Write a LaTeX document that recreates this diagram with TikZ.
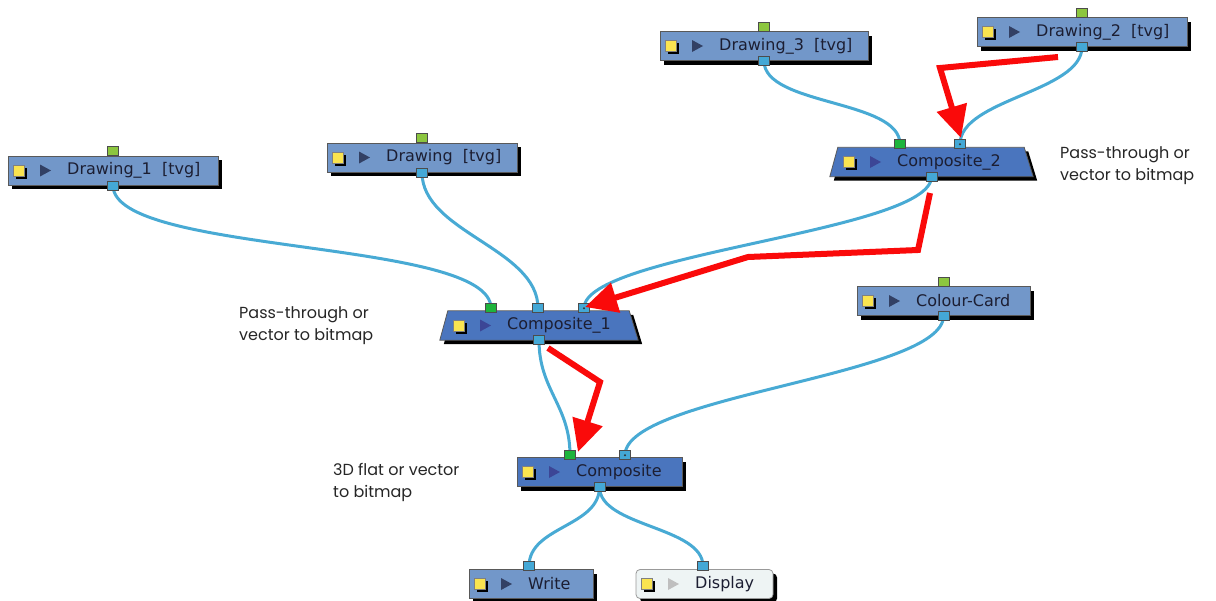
\documentclass[tikz,border=0pt]{standalone}
\usepackage{fontspec}
\setmainfont{DejaVu Sans}
\newfontfamily\notefont{Poppins}
\usetikzlibrary{shadows,arrows.meta}
\pgfdeclarelayer{bg}
\pgfdeclarelayer{wires}
\pgfsetlayers{bg,wires,main}
\definecolor{dfill}{RGB}{114,151,201}
\definecolor{cfill}{RGB}{74,117,190}
\definecolor{wfill}{RGB}{238,244,244}
\definecolor{pblue}{RGB}{68,168,214}
\definecolor{plime}{RGB}{140,198,63}
\definecolor{pgreen}{RGB}{30,180,60}
\definecolor{wirec}{RGB}{72,170,212}
\definecolor{arrowred}{RGB}{250,10,10}
\definecolor{iconyel}{RGB}{250,228,80}
\definecolor{tricol}{RGB}{50,64,100}
\definecolor{tricolc}{RGB}{60,70,150}
\definecolor{txtcol}{RGB}{28,30,50}
\tikzset{
 shadowed/.style={drop shadow={shadow xshift=4pt,shadow yshift=-4pt,fill=black,opacity=1}},
 boxnode/.style={draw=black!65, line width=0.8pt, fill=dfill, minimum height=29pt, inner sep=0pt, shadowed},
 compnode/.style={boxnode, fill=cfill},
 trapbase/.style={minimum height=29pt, inner sep=0pt},
 dispnode/.style={boxnode, fill=wfill, draw=black!40, rounded corners=4pt},
 yicon/.style={fill=iconyel, draw=black!50, line width=0.4pt, minimum size=11pt, inner sep=0pt, drop shadow={shadow xshift=2.5pt,shadow yshift=-2.5pt,fill=black,opacity=1}},
 ntext/.style={font=\fontsize{16}{19}\selectfont, text=txtcol, inner sep=0pt},
 port/.style={draw=black!70, line width=0.6pt, fill=pblue, minimum width=11pt, minimum height=9pt, inner sep=0pt},
 limeport/.style={port, fill=plime},
 greenport/.style={port, fill=pgreen},
 dotport/.style={port, path picture={\fill[black!80] (path picture bounding box.center) circle (1.1pt);}},
 wire/.style={draw=wirec, line width=3pt},
 redarrow/.style={draw=arrowred, line width=6pt, line join=miter, -{Triangle[length=32pt,width=30pt]}},
 note/.style={font=\notefont\fontsize{16}{22}\selectfont, text=black!85, align=left, inner sep=0pt, anchor=north west},
 trapfill/.style={fill=cfill, draw=black!65, line width=0.8pt},
}
\newcommand\trapshape[1]{%
 \fill[black] ([shift={(4,4)}]#1.south west) -- ([shift={(4,4)}]#1.south east) -- ([shift={(-5,4)}]#1.north east) -- ([shift={(12,4)}]#1.north west) -- cycle;
 \filldraw[trapfill] (#1.south west) -- (#1.south east) -- ([xshift=-9pt]#1.north east) -- ([xshift=8pt]#1.north west) -- cycle;
}
\newcommand\flownode[9]{%
 \node[#6, minimum width=#4pt] (#1) at (#2,#3) {};
 #9%
 \node[yicon] (#1-icon) at (#2-#4/2+11+#7,#3) {};
 \fill[#8] (#2-#4/2+32+#7,#3-6) -- (#2-#4/2+43+#7,#3) -- (#2-#4/2+32+#7,#3+6) -- cycle;
 \node[ntext, anchor=west] (#1-text) at (#2-#4/2+59+#7,#3) {#5};
}
\begin{document}
\begin{tikzpicture}[x=1pt,y=-1pt]
\useasboundingbox (0,0) rectangle (1216,600);
\begin{pgfonlayer}{bg}
\fill[white] (0,0) rectangle (1216,600);
\end{pgfonlayer}
% nodes
\flownode{d1}{113}{170.5}{210}{Drawing\_1\ \ [tvg]}{boxnode}{0}{tricol}{}
\flownode{d0}{422}{157.5}{190}{Drawing\ \ [tvg]}{boxnode}{0}{tricol}{}
\flownode{d3}{764}{46}{208}{Drawing\_3\ \ [tvg]}{boxnode}{0}{tricol}{}
\flownode{d2}{1082}{32}{210}{Drawing\_2\ \ [tvg]}{boxnode}{0}{tricol}{}
\flownode{c2}{931.5}{162}{203}{Composite\_2}{trapbase}{8}{tricolc}{\trapshape{c2}}
\flownode{c1}{539}{325.5}{198}{Composite\_1}{trapbase}{8}{tricolc}{\trapshape{c1}}
\flownode{c0}{599.5}{472}{165}{Composite}{compnode}{0}{tricolc}{}
\flownode{cc}{943.5}{301}{173}{Colour-Card}{boxnode}{0}{tricol}{}
\flownode{wr}{531}{584}{124}{Write}{boxnode}{0}{tricol}{}
\flownode{dp}{704.5}{584}{137}{Display}{dispnode}{0}{black!25}{}
% ports
\foreach \n in {d1,d0,d3,d2,cc}{
  \node[limeport, anchor=south] (\n-in) at (\n.north) {};
}
\foreach \n in {d1,d0,d3,d2,cc,c2,c1,c0}{
  \node[port] (\n-out) at (\n.south) {};
}
\node[greenport, anchor=south] (c2-in1) at (900,149) {};
\node[dotport, anchor=south] (c2-in2) at (960,149) {};
\node[greenport, anchor=south] (c1-in1) at (491,313) {};
\node[port, anchor=south] (c1-in2) at (538,313) {};
\node[dotport, anchor=south] (c1-in3) at (584,313) {};
\node[greenport, anchor=south] (c0-in1) at (570,460) {};
\node[dotport, anchor=south] (c0-in2) at (625,460) {};
\node[port, anchor=south] (wr-in) at (529,571) {};
\node[port, anchor=south] (dp-in) at (703,571) {};
% wires
\begin{pgfonlayer}{wires}
\draw[wire] (d3-out.center) .. controls +(0,45) and +(0,-45) .. (c2-in1.center);
\draw[wire] (d2-out.center) .. controls +(0,45) and +(0,-45) .. (c2-in2.center);
\draw[wire] (d1-out.center) .. controls +(0,70) and +(0,-70) .. (c1-in1.center);
\draw[wire] (d0-out.center) .. controls +(0,60) and +(0,-60) .. (c1-in2.center);
\draw[wire] (c2-out.center) .. controls +(0,55) and +(0,-55) .. (c1-in3.center);
\draw[wire] (c1-out.center) .. controls +(0,50) and +(0,-50) .. (c0-in1.center);
\draw[wire] (cc-out.center) .. controls +(0,60) and +(0,-60) .. (c0-in2.center);
\draw[wire] (c0-out.center) .. controls +(0,40) and +(0,-40) .. (wr-in.center);
\draw[wire] (c0-out.center) .. controls +(0,40) and +(0,-40) .. (dp-in.center);
\end{pgfonlayer}
% red arrows
\coordinate (r1a) at (1058,57);
\coordinate (r1b) at (940,68);
\coordinate (r1c) at (961,138);
\coordinate (r2a) at (930,193);
\coordinate (r2b) at (918,250);
\coordinate (r2c) at (748,257);
\coordinate (r2d) at (585,307);
\coordinate (r3a) at (548,348);
\coordinate (r3b) at (600,382);
\coordinate (r3c) at (578,452);
\draw[redarrow] (r1a) -- (r1b) -- (r1c);
\draw[redarrow] (r2a) -- (r2b) -- (r2c) -- (r2d);
\draw[redarrow] (r3a) -- (r3b) -- (r3c);
% notes
\node[note] (n1) at (1060,146) {Pass-through or\\vector to bitmap};
\node[note] (n2) at (239,306) {Pass-through or\\vector to bitmap};
\node[note] (n3) at (333,463) {3D flat or vector\\to bitmap};
\end{tikzpicture}
\end{document}
